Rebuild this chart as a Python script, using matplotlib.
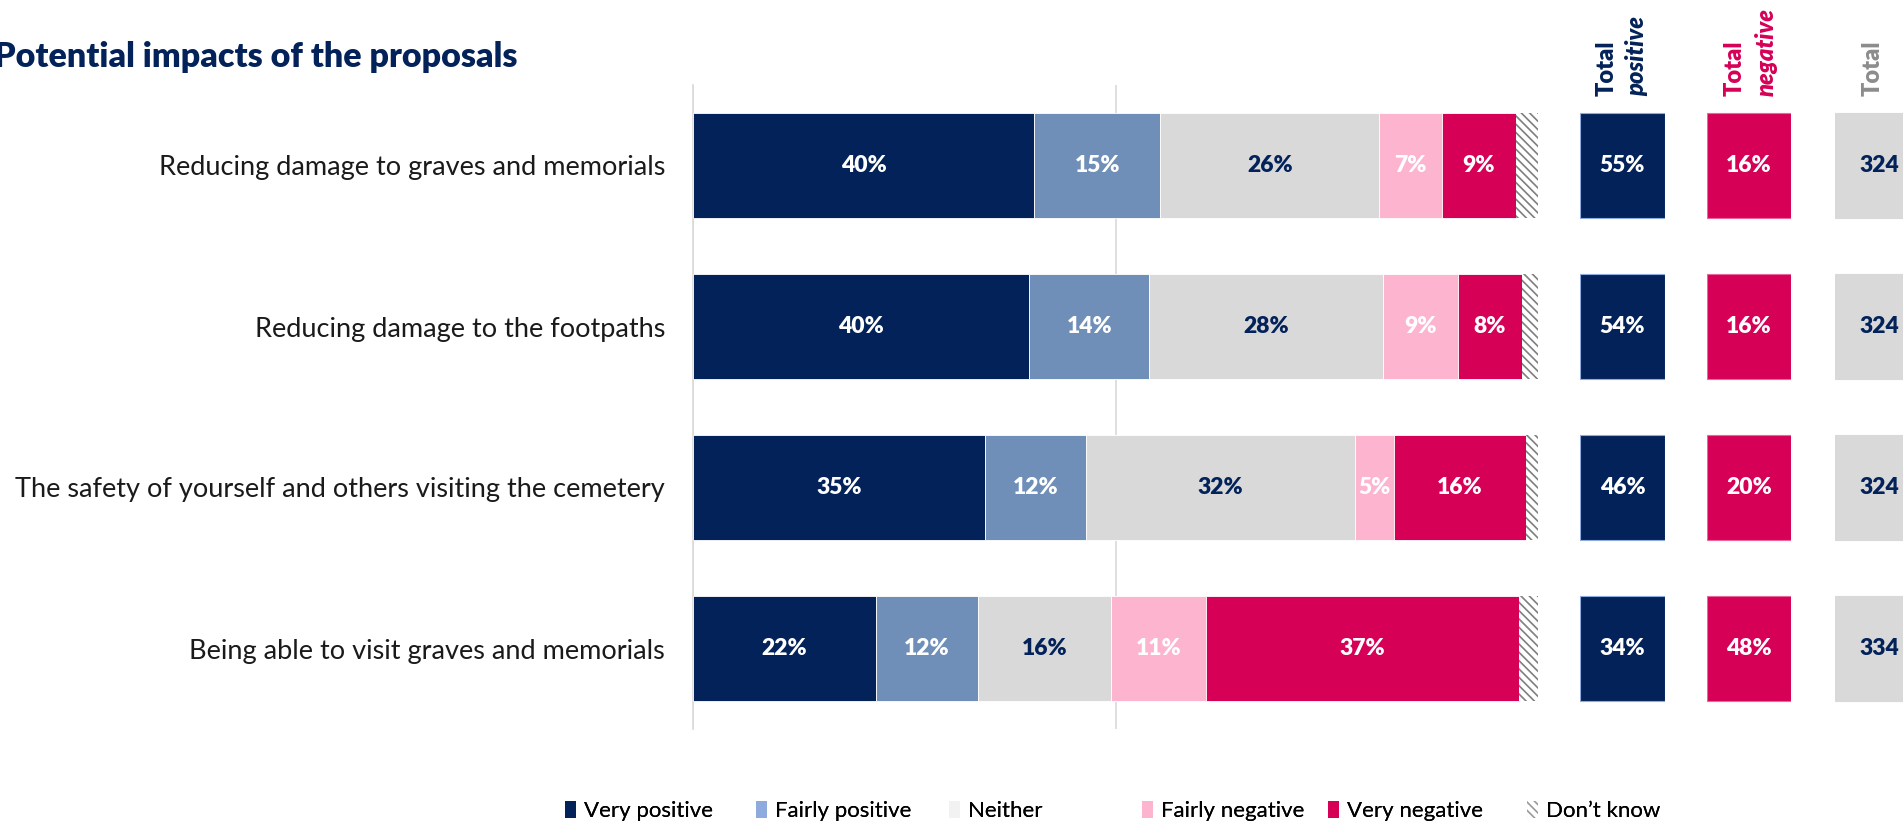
import matplotlib
matplotlib.use("Agg")
import matplotlib.pyplot as plt
from matplotlib.patches import Patch

plt.rcParams['font.family'] = ['Lato', 'DejaVu Sans']
plt.rcParams['hatch.linewidth'] = 1.2

# ---------------- data ----------------
categories = [
    "Reducing damage to graves and memorials",
    "Reducing damage to the footpaths",
    "The safety of yourself and others visiting the cemetery",
    "Being able to visit graves and memorials",
]
very_positive = [40.4, 39.8, 34.6, 21.6]
fairly_positive = [14.9, 14.2, 11.9, 12.1]
neither = [25.9, 27.7, 31.8, 15.8]
fairly_negative = [7.4, 8.8, 4.6, 11.2]
very_negative = [8.8, 7.6, 15.7, 37.1]
dont_know = [2.6, 1.9, 1.6, 2.4]

total_positive = [55, 54, 46, 34]
total_negative = [16, 16, 20, 48]
base_total = [324, 324, 324, 334]

series_names = ["Very positive", "Fairly positive", "Neither", "Fairly negative", "Very negative", "Don\u2019t know"]

# ---------------- style ----------------
NAVY = "#022259"
LBLUE = "#6f8fb8"
GREY = "#d9d9d9"
PINK = "#fdb4cf"
CRIMSON = "#d60057"
HATCH_C = "#7f7f7f"

W, H = 1903, 824
fig = plt.figure(figsize=(W / 100, H / 100), dpi=100)

def fx(px):
    return px / W

def fy(py):
    return 1 - py / H

top_px, bot_px = 85, 729
ax_b = fy(bot_px)
ax_h = (bot_px - top_px) / H

ax = fig.add_axes([fx(693), ax_b, fx(1538) - fx(693), ax_h])
bar_h = 0.65
ypos = list(range(len(categories)))

series = [very_positive, fairly_positive, neither, fairly_negative, very_negative]
colors = [NAVY, LBLUE, GREY, PINK, CRIMSON]
text_colors = ["white", "white", NAVY, "white", "white"]

LBL_FS = 16.5
LBL_W = "heavy"

left = [0.0] * len(categories)
for vals, c, tc in zip(series, colors, text_colors):
    bars = ax.barh(ypos, vals, left=left, height=bar_h, color=c, edgecolor="white", linewidth=0.6, zorder=3)
    for i, (b, v) in enumerate(zip(bars, vals)):
        ax.text(left[i] + v / 2, i, f"{v:.0f}%", ha="center", va="center",
                color=tc, fontsize=LBL_FS, fontweight=LBL_W, zorder=4)
    left = [l + v for l, v in zip(left, vals)]

ax.barh(ypos, dont_know, left=left, height=bar_h, facecolor="white", edgecolor=HATCH_C,
        hatch="\\\\\\\\", linewidth=0, zorder=3)

ax.set_xlim(0, 100)
ax.set_ylim(len(categories) - 0.5, -0.5)
ax.set_yticks(ypos)
ax.set_yticklabels(categories, fontsize=19.5, color="#1a1a1a")
ax.tick_params(axis="y", length=0, pad=20)
ax.set_xticks([0, 50])
ax.tick_params(axis="x", length=0, labelbottom=False)
ax.grid(axis="x", color="#d9d9d9", linewidth=1.2, zorder=0)
for s in ["top", "right", "bottom"]:
    ax.spines[s].set_visible(False)
ax.spines["left"].set_color("#d9d9d9")
ax.spines["left"].set_linewidth(1.2)

# ---------------- summary columns ----------------
def summary_col(x0, x1, vals, face, tcolor, fmt, edge):
    a = fig.add_axes([fx(x0), ax_b, fx(x1) - fx(x0), ax_h])
    a.barh(ypos, [1] * len(vals), height=bar_h, color=face, edgecolor=edge, linewidth=0.8)
    for i, v in enumerate(vals):
        a.text(0.5, i, fmt.format(v), ha="center", va="center", color=tcolor,
               fontsize=LBL_FS, fontweight=LBL_W)
    a.set_xlim(0, 1)
    a.set_ylim(len(vals) - 0.5, -0.5)
    a.axis("off")
    return a

summary_col(1580, 1665, total_positive, NAVY, "white", "{}%", "#8faadc")
summary_col(1707, 1791, total_negative, CRIMSON, "white", "{}%", "#e8669a")
summary_col(1835, 1923, base_total, GREY, NAVY, "{}", GREY)

# headers
hy = fy(96)
HFS = 17
fig.text(fx(1607), hy, "Total", rotation=90, ha="center", va="bottom", color=NAVY,
         fontsize=HFS, fontweight="heavy")
fig.text(fx(1637), hy, "positive", rotation=90, ha="center", va="bottom", color=NAVY,
         fontsize=HFS, fontweight="heavy", style="italic")
fig.text(fx(1735), hy, "Total", rotation=90, ha="center", va="bottom", color=CRIMSON,
         fontsize=HFS, fontweight="heavy")
fig.text(fx(1766), hy, "negative", rotation=90, ha="center", va="bottom", color=CRIMSON,
         fontsize=HFS, fontweight="heavy", style="italic")
fig.text(fx(1873), hy, "Total", rotation=90, ha="center", va="bottom", color="#8c8c8c",
         fontsize=HFS, fontweight="heavy")

# title
fig.text(fx(-6), fy(57), "Potential impacts of the proposals", ha="left", va="center",
         color=NAVY, fontsize=24.5, fontweight="heavy")

# ---------------- legend ----------------
leg_colors = [NAVY, "#8faadc", "#f2f2f2", PINK, CRIMSON]
handles = [Patch(facecolor=c, edgecolor="none") for c in leg_colors]
handles.append(Patch(facecolor="white", edgecolor="#9a9a9a", hatch="\\\\\\\\", linewidth=0))
leg_x = [565, 756, 949, 1142, 1328, 1527]
for h, name, xp in zip(handles, series_names, leg_x):
    lg = fig.legend([h], [name], loc="center left", bbox_to_anchor=(fx(xp), fy(811)),
                    frameon=False, fontsize=16, handlelength=0.5, handleheight=0.8,
                    handletextpad=0.35, borderpad=0, borderaxespad=0)
    fig.add_artist(lg)

fig.savefig("out.png", dpi=100)
